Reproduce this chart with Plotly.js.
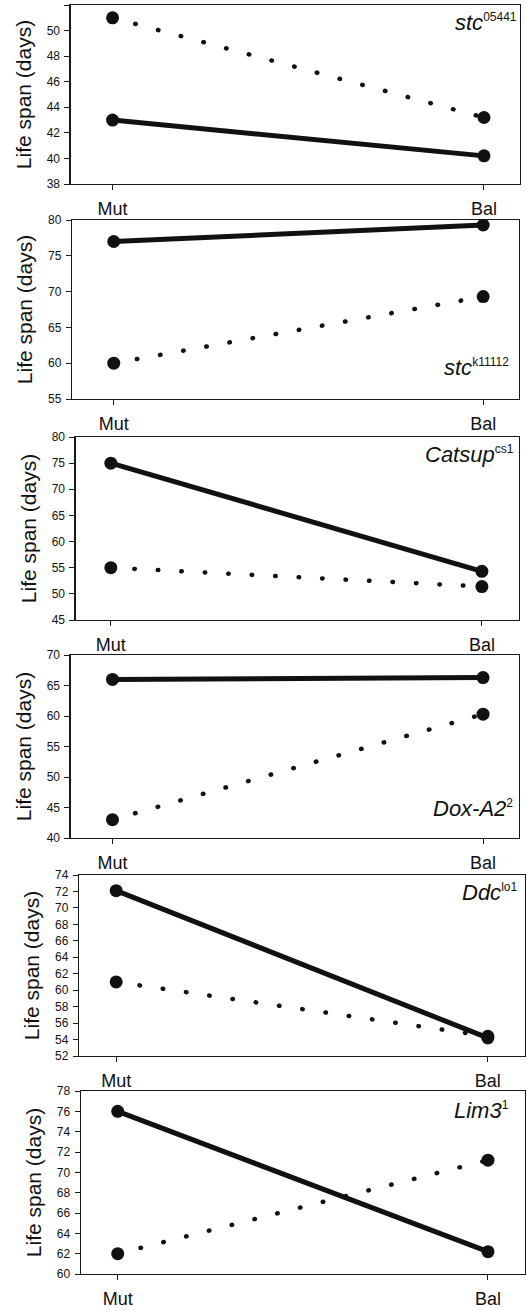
<!DOCTYPE html>
<html>
<head>
<meta charset="utf-8">
<script src="https://cdn.plot.ly/plotly-3.0.1.min.js"></script>
<style>
  html, body { margin: 0; padding: 0; background: #fff; }
  #chart { width: 527px; height: 1311px; }
  .scatterlayer .trace.dotted .js-line { stroke-linecap: round; }
</style>
</head>
<body>
<div id="chart"></div>
<script>
// ---- data ----
const categories = ['Mut', 'Bal'];
const geneNames = ['stc', 'stc', 'Catsup', 'Dox-A2', 'Ddc', 'Lim3'];
const geneSups = ['05441', 'k11112', 'cs1', '2', 'lo1', '1'];
const solidValues = [
  [43.0, 40.2],
  [77.0, 79.3],
  [75.0, 54.3],
  [66.0, 66.3],
  [72.1, 54.2],
  [76.0, 62.2]
];
const dottedValues = [
  [51.0, 43.2],
  [60.0, 69.3],
  [55.0, 51.4],
  [43.0, 60.3],
  [61.0, 54.4],
  [62.0, 71.2]
];
const yTitle = 'Life span (days)';

// ---- layout geometry (pixels) ----
const W = 527, H = 1311;
const panels = [
  {l: 70.6, r: 520, t: 5,    b: 184,  yr: [38, 52], dt: 2, xr: [-0.113, 1.097], ann: {pos: 'top', dx: -1,  dy: -3}},
  {l: 72,   r: 519, t: 220,  b: 399,  yr: [55, 80], dt: 5, xr: [-0.113, 1.097], ann: {pos: 'bottom', dx: -8, dy: 17}},
  {l: 75.6, r: 519, t: 437,  b: 620,  yr: [45, 80], dt: 5, xr: [-0.095, 1.1],   ann: {pos: 'top', dx: -3,  dy: -3}},
  {l: 70.6, r: 519, t: 655,  b: 838,  yr: [40, 70], dt: 5, xr: [-0.113, 1.097], ann: {pos: 'bottom', dx: -4, dy: 15}},
  {l: 79,   r: 525, t: 875,  b: 1056, yr: [52, 74], dt: 2, xr: [-0.1, 1.1],     ann: {pos: 'top', dx: -6,  dy: -3}},
  {l: 80.7, r: 525, t: 1091, b: 1274, yr: [60, 78], dt: 2, xr: [-0.1, 1.1],     ann: {pos: 'top', dx: -14, dy: -5}}
];

const FONT = 'Liberation Sans, Arial, Helvetica, sans-serif';
const AXCOL = '#1a1a1a';

const traces = [];
const layout = {
  width: W, height: H,
  margin: {l: 0, r: 0, t: 0, b: 0},
  paper_bgcolor: '#fff', plot_bgcolor: '#fff',
  showlegend: false,
  font: {family: FONT, color: '#111'},
  annotations: []
};

panels.forEach((p, i) => {
  const n = i === 0 ? '' : String(i + 1);
  const xa = 'x' + n, ya = 'y' + n;
  // dotted series first (drawn beneath)
  traces.push({
    type: 'scatter', mode: 'lines+markers',
    x: categories, y: dottedValues[i],
    xaxis: xa, yaxis: ya,
    line: {color: '#111', width: 4.5, dash: '0.5px,23px'},
    marker: {color: '#111', size: 13},
    hoverinfo: 'skip'
  });
  traces.push({
    type: 'scatter', mode: 'lines+markers',
    x: categories, y: solidValues[i],
    xaxis: xa, yaxis: ya,
    line: {color: '#111', width: 5},
    marker: {color: '#111', size: 13},
    hoverinfo: 'skip'
  });
  layout['xaxis' + n] = {
    domain: [p.l / W, p.r / W],
    anchor: ya,
    type: 'category',
    range: p.xr,
    showgrid: false, zeroline: false,
    showline: true, mirror: true, linecolor: AXCOL, linewidth: 1.2,
    ticks: 'outside', ticklen: 5, tickwidth: 1, tickcolor: AXCOL,
    ticklabelstandoff: 3,
    tickfont: {family: FONT, size: 18, color: '#111'},
    fixedrange: true
  };
  layout['yaxis' + n] = {
    domain: [1 - p.b / H, 1 - p.t / H],
    anchor: xa,
    range: p.yr,
    dtick: p.dt, tick0: 0,
    showgrid: false, zeroline: false,
    showline: true, mirror: true, linecolor: AXCOL, linewidth: 1.2,
    ticks: 'outside', ticklen: 5, tickwidth: 1, tickcolor: AXCOL,
    ticklabelstandoff: 2,
    tickfont: {family: FONT, size: 12, color: '#111'},
    title: {text: yTitle, font: {family: FONT, size: 21, color: '#111'}, standoff: 9},
    fixedrange: true
  };
  const a = p.ann;
  layout.annotations.push({
    xref: xa + ' domain', yref: ya + ' domain',
    x: 1, y: a.pos === 'top' ? 1 : 0,
    xanchor: 'right', yanchor: a.pos === 'top' ? 'top' : 'bottom',
    xshift: a.dx, yshift: a.dy,
    showarrow: false,
    text: '<i>' + geneNames[i] + '</i><sup><span style="font-size:12px">' + geneSups[i] + '</span></sup>',
    font: {family: FONT, size: 22, color: '#111'}
  });
});

Plotly.newPlot('chart', traces, layout, {staticPlot: true, displayModeBar: false}).then(gd => {
  // mark dotted traces for round caps
  const tr = gd.querySelectorAll('.scatterlayer .trace');
  tr.forEach((t, k) => { if (k % 2 === 0) t.classList.add('dotted'); });
});
</script>
</body>
</html>
